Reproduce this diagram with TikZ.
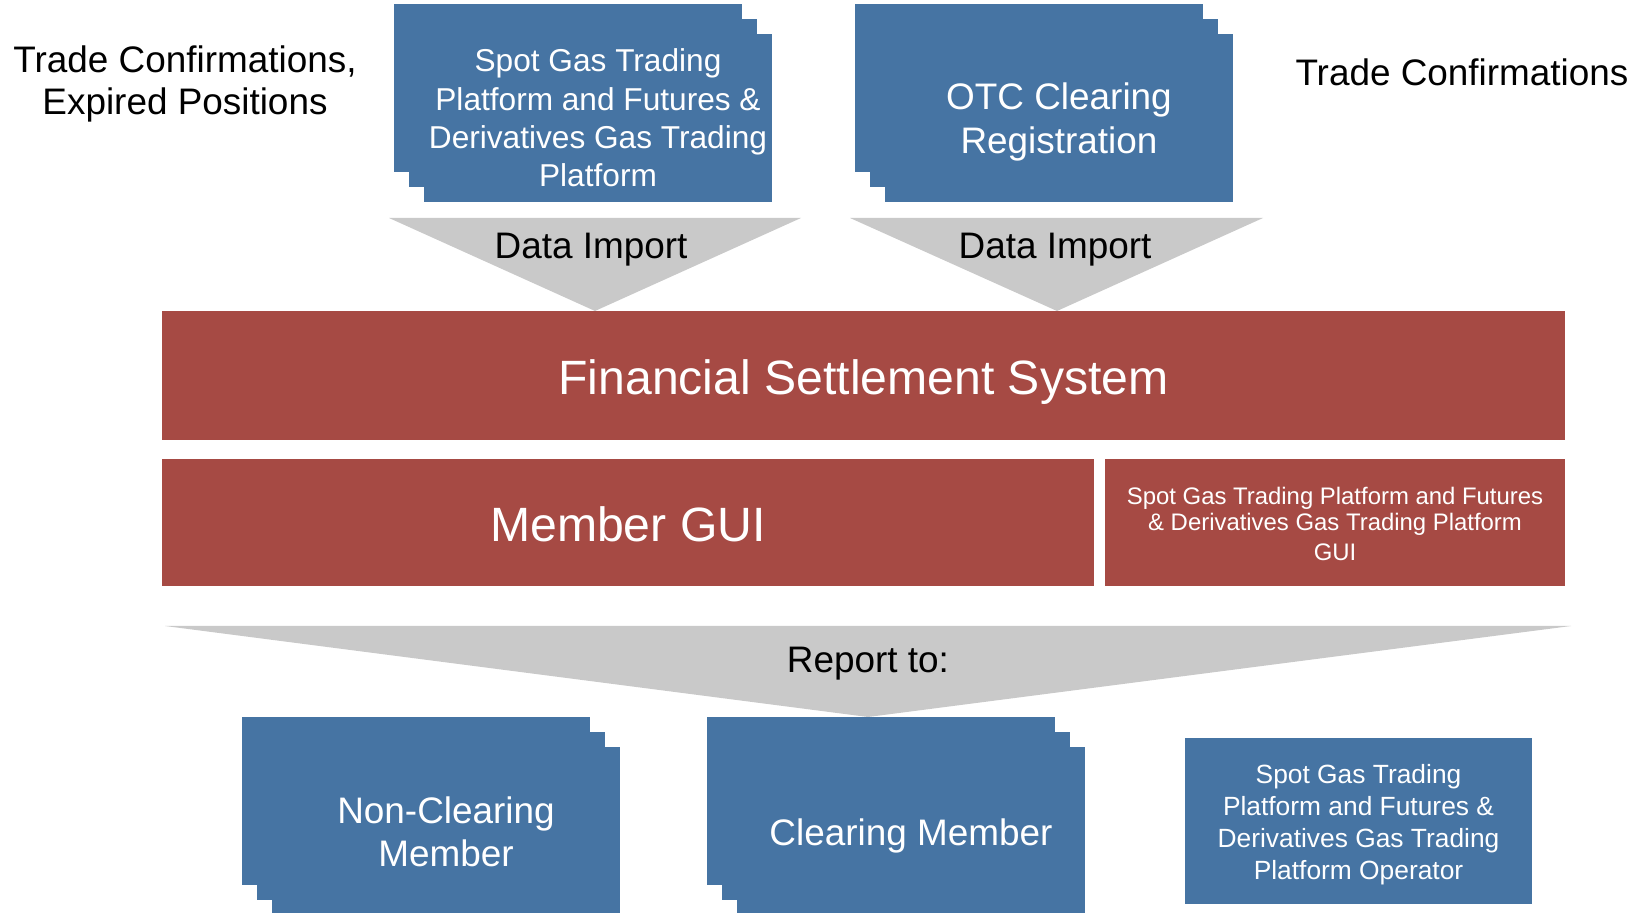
\documentclass[tikz,border=0pt]{standalone}
\usepackage{fontspec}
\setmainfont{Liberation Sans}
\usetikzlibrary{shadows}
\definecolor{stackblue}{HTML}{4674A3}
\definecolor{sysred}{HTML}{A64A44}
\definecolor{arrowgray}{HTML}{C9C9C9}
\begin{document}
\begin{tikzpicture}

        % Styles
        \tikzstyle{stack box}=[fill=stackblue, inner sep=0pt, minimum width=6.96cm, minimum height=3.36cm,
            general shadow={shadow xshift=-0.6cm, shadow yshift=0.6cm, fill=stackblue},
            general shadow={shadow xshift=-0.3cm, shadow yshift=0.3cm, fill=stackblue}]
        \tikzstyle{plain box}=[fill=stackblue, inner sep=0pt]
        \tikzstyle{system bar}=[fill=sysred, inner sep=0pt, minimum height=2.54cm]
        \tikzstyle{box text}=[text=white, align=center, inner sep=0pt]
        \tikzstyle{import arrow}=[fill=arrowgray]
        \tikzstyle{label text}=[font=\fontsize{21}{24}\selectfont, align=center, inner sep=0pt]

        \useasboundingbox (0,0) rectangle (33,18.24);

        %the arrows
        \fill[style=import arrow] (7.78,13.88) -- (16.02,13.88) -- (11.9,12.02) -- cycle;
        \fill[style=import arrow] (17.0,13.88) -- (25.26,13.88) -- (21.14,12.02) -- cycle;
        \fill[style=import arrow] (3.3,5.72) -- (31.42,5.72) -- (17.36,3.9) -- cycle;

        %sources
        \node[stack box] (spot) at (11.96,15.88) {};
        \node[box text, font=\fontsize{18}{21.8}\selectfont] (spot text) at (spot.center)
            {Spot Gas Trading\\Platform and Futures \&\\Derivatives Gas Trading\\Platform};
        \node[stack box] (otc) at (21.18,15.88) {};
        \node[box text, font=\fontsize{21}{24.6}\selectfont] (otc text) at ([yshift=-0.08cm]otc.center)
            {OTC Clearing\\Registration};
        \node[label text] (expired) at (3.7,16.56) {Trade Confirmations,\\Expired Positions};
        \node[label text] (confirm) at (29.24,16.8) {Trade Confirmations};
        \node[label text] (import spot) at (11.82,13.25) {Data Import};
        \node[label text] (import otc) at (21.1,13.25) {Data Import};

        %system
        \node[system bar, minimum width=28.06cm, minimum height=2.58cm] (fss) at (17.27,10.73) {};
        \node[box text, font=\fontsize{27.4}{30}\selectfont] (fss text) at ([yshift=-0.14cm]fss.center)
            {Financial Settlement System};
        \node[system bar, minimum width=18.64cm] (member gui) at (12.56,7.79) {};
        \node[box text, font=\fontsize{27.4}{30}\selectfont] (member gui text) at ([yshift=-0.035cm]member gui.center)
            {Member GUI};
        \node[system bar, minimum width=9.2cm] (platform gui) at (26.70,7.79) {};
        \node[box text, font=\fontsize{13.6}{14.6}\selectfont] (platform gui text) at ([yshift=-0.03cm]platform gui.center)
            {Spot Gas Trading Platform and Futures\\\& Derivatives Gas Trading Platform\\[2.4pt]GUI};

        %report
        \node[label text] (report) at (17.36,4.97) {Report to:};
        \node[stack box] (nonclearing) at (8.92,1.62) {};
        \node[box text, font=\fontsize{21}{24.6}\selectfont] (nonclearing text) at ([yshift=-0.02cm]nonclearing.center)
            {Non-Clearing\\Member};
        \node[stack box] (clearing) at (18.22,1.62) {};
        \node[box text, font=\fontsize{21}{24.6}\selectfont] (clearing text) at ([yshift=-0.1cm]clearing.center)
            {Clearing Member};
        \node[plain box, minimum width=6.94cm, minimum height=3.32cm] (operator) at (27.17,1.82) {};
        \node[box text, font=\fontsize{15}{18.2}\selectfont] (operator text) at ([yshift=-0.07cm]operator.center)
            {Spot Gas Trading\\Platform and Futures \&\\Derivatives Gas Trading\\Platform Operator};

\end{tikzpicture}
\end{document}
